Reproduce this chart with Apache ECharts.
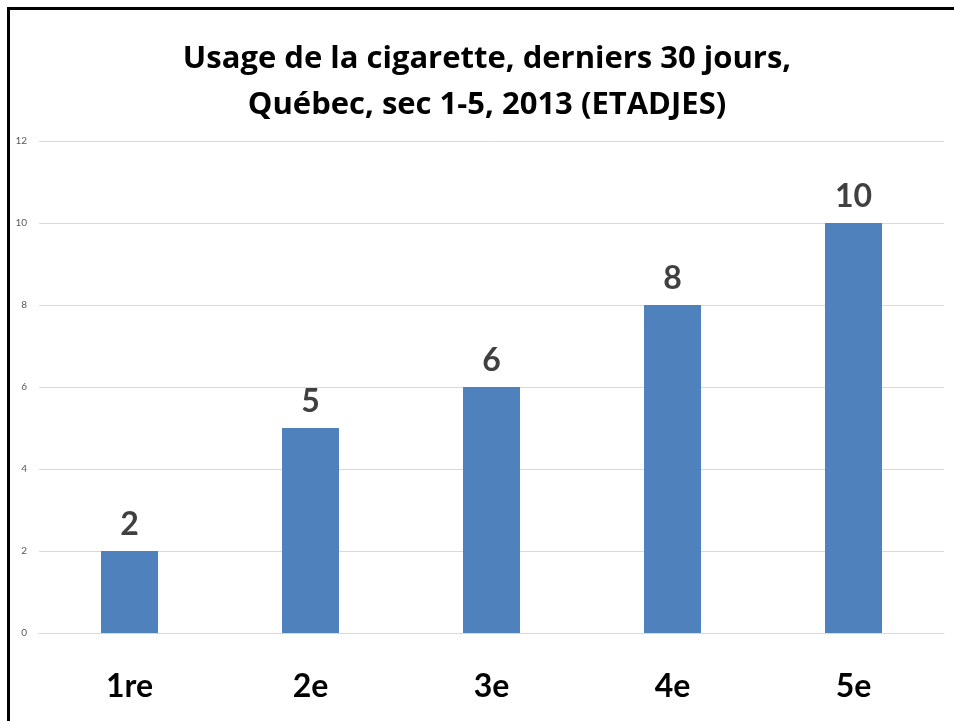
<!DOCTYPE html>
<html>
<head>
<meta charset="utf-8">
<script src="https://cdn.jsdelivr.net/npm/echarts@6/dist/echarts.min.js"></script>
<style>
  html, body { margin: 0; padding: 0; background: #fff; }
  #chart { width: 954px; height: 721px; }
</style>
</head>
<body>
<div id="chart"></div>
<script>
const categories = ["1re", "2e", "3e", "4e", "5e"];
const values = [2, 5, 6, 8, 10];
const titleLines = ["Usage de la cigarette, derniers 30 jours,", "Québec, sec 1-5, 2013 (ETADJES)"];

const chart = echarts.init(document.getElementById("chart"));

chart.setOption({
  animation: false,
  title: {
    text: titleLines.join("\n"),
    left: 482,
    textAlign: "center",
    top: 31,
    textStyle: {
      fontFamily: "Open Sans",
      fontWeight: "bold",
      fontSize: 31,
      lineHeight: 46,
      color: "#000",
    },
  },
  // slide frame, only top and left edges show
  graphic: [
    {
      type: "polyline",
      shape: { points: [[8.5, 721], [8.5, 8.5], [954, 8.5]] },
      style: { stroke: "#000", lineWidth: 3, fill: null },
    },
  ],
  grid: { left: 39, right: 10, top: 141, bottom: 88 },
  xAxis: {
    type: "category",
    data: categories,
    axisTick: { show: false },
    axisLine: { lineStyle: { color: "#d9d9d9", width: 1 } },
    axisLabel: {
      margin: 38,
      fontFamily: "Lato",
      fontWeight: "bold",
      fontSize: 32,
      color: "#000",
    },
  },
  yAxis: {
    type: "value",
    min: 0,
    max: 12,
    interval: 2,
    axisLine: { show: false },
    axisTick: { show: false },
    splitLine: { lineStyle: { color: "#d9d9d9", width: 1 } },
    axisLabel: {
      margin: 12,
      fontFamily: "Lato",
      fontSize: 10,
      color: "#595959",
    },
  },
  series: [
    {
      type: "bar",
      data: values,
      barWidth: "31.5%",
      itemStyle: { color: "#4f81bd" },
      label: {
        show: true,
        position: "top",
        distance: 10,
        fontFamily: "Lato",
        fontWeight: "bold",
        fontSize: 32,
        color: "#404040",
      },
    },
  ],
});
</script>
</body>
</html>
